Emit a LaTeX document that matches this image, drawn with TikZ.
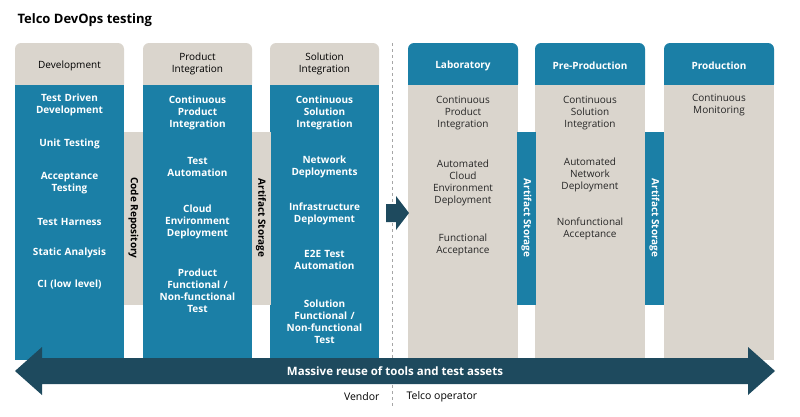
\documentclass[tikz,border=0pt]{standalone}
\usepackage{fontspec}
\setmainfont{Open Sans}
\usepackage{xcolor}
\usetikzlibrary{arrows.meta}
\definecolor{tblue}{HTML}{1B7FA6}
\definecolor{tgrey}{HTML}{DAD5CD}
\definecolor{tnavy}{HTML}{1E4A5E}
\tikzset{
 wtxt/.style={text=white,font=\bfseries\fontsize{10}{12}\selectfont,align=center,text width=100pt,inner sep=0pt},
 dtxt/.style={text=black!85,font=\fontsize{10}{12}\selectfont,align=center,text width=100pt,inner sep=0pt},
 htxt/.style={font=\fontsize{10}{12}\selectfont,align=center,inner sep=0pt},
}
\begin{document}
\begin{tikzpicture}[x=1pt,y=-1pt]
\useasboundingbox (0,0) rectangle (800,416);
\node[anchor=west,font=\bfseries\fontsize{13}{15}\selectfont] (title) at (14,20) {Telco DevOps testing};

% vendor side
\foreach \x/\n in {15/dev,143/prod,270/sol}{
  \fill[tgrey,rounded corners=6pt] (\x,43) rectangle (\x+109,90);
  \fill[tblue] (\x,85) rectangle (\x+109,360);
}
\foreach \x in {124,252}{
  \fill[tgrey] (\x,132) rectangle (\x+19,305);
}
% operator side
\foreach \x in {408,535,664}{
  \fill[tblue,rounded corners=6pt] (\x,43) rectangle (\x+110,90);
  \fill[tgrey] (\x,85) rectangle (\x+110,360);
}
\foreach \x in {517,645}{
  \fill[tblue] (\x,132) rectangle (\x+19,305);
}

\draw[gray!70,dashed,line width=1pt] (392,43) -- (392,408);
\fill[tnavy] (386,204) -- (396,204) -- (396,196) -- (409,213) -- (396,230) -- (396,222) -- (386,222) -- cycle;

% headers
\node[htxt] (hdev) at (69.5,66) {Development};
\node[htxt] (hprod) at (197.5,64) {Product\\Integration};
\node[htxt] (hsol) at (324.5,64) {Solution\\Integration};
\node[htxt,text=white,font=\bfseries\fontsize{10}{12}\selectfont] (hlab) at (463,66) {Laboratory};
\node[htxt,text=white,font=\bfseries\fontsize{10}{12}\selectfont] (hpre) at (590,66) {Pre-Production};
\node[htxt,text=white,font=\bfseries\fontsize{10}{12}\selectfont] (hprd) at (719,66) {Production};

% strips
\node[rotate=-90,font=\bfseries\fontsize{10}{12}\selectfont] (crepo) at (133.5,218) {Code Repository};
\node[rotate=-90,font=\bfseries\fontsize{10}{12}\selectfont] (as1) at (261,218) {Artifact Storage};
\node[rotate=-90,text=white,font=\bfseries\fontsize{10}{12}\selectfont] (as2) at (526.5,218) {Artifact Storage};
\node[rotate=-90,text=white,font=\bfseries\fontsize{10}{12}\selectfont] (as3) at (654.5,218) {Artifact Storage};

% development
\node[wtxt] (d1) at (69.5,105) {Test Driven\\Development};
\node[wtxt] (d2) at (69.5,144) {Unit Testing};
\node[wtxt] (d3) at (69.5,183) {Acceptance\\Testing};
\node[wtxt] (d4) at (69.5,222) {Test Harness};
\node[wtxt] (d5) at (69.5,253) {Static Analysis};
\node[wtxt] (d6) at (69.5,284) {CI (low level)};
% product integration
\node[wtxt] (p1) at (197.5,113) {Continuous\\Product\\Integration};
\node[wtxt] (p2) at (197.5,167) {Test\\Automation};
\node[wtxt] (p3) at (197.5,222) {Cloud\\Environment\\Deployment};
\node[wtxt] (p4) at (197.5,291) {Product\\Functional /\\Non-functional\\Test};
% solution integration
\node[wtxt] (s1) at (324.5,113) {Continuous\\Solution\\Integration};
\node[wtxt] (s2) at (324.5,167) {Network\\Deployments};
\node[wtxt] (s3) at (324.5,214) {Infrastructure\\Deployment};
\node[wtxt] (s4) at (324.5,260) {E2E Test\\Automation};
\node[wtxt] (s5) at (324.5,322) {Solution\\Functional /\\Non-functional\\Test};
% laboratory
\node[dtxt] (l1) at (463,113) {Continuous\\Product\\Integration};
\node[dtxt] (l2) at (463,183) {Automated\\Cloud\\Environment\\Deployment};
\node[dtxt] (l3) at (463,245) {Functional\\Acceptance};
% pre-production
\node[dtxt] (r1) at (590,113) {Continuous\\Solution\\Integration};
\node[dtxt] (r2) at (590,175) {Automated\\Network\\Deployment};
\node[dtxt] (r3) at (590,229) {Nonfunctional\\Acceptance};
% production
\node[dtxt] (o1) at (719,105) {Continuous\\Monitoring};

% reuse arrow
\fill[tnavy] (15,371) -- (42,347) -- (42,358) -- (748,358) -- (748,347) -- (775,371) -- (748,395) -- (748,384) -- (42,384) -- (42,395) -- cycle;
\node[text=white,font=\bfseries\fontsize{11.5}{13}\selectfont] (reuse) at (395,371) {Massive reuse of tools and test assets};
\node[font=\fontsize{10.5}{12}\selectfont,anchor=east] (vend) at (383,397) {Vendor};
\node[font=\fontsize{10.5}{12}\selectfont,anchor=west] (telco) at (403,397) {Telco operator};
\end{tikzpicture}
\end{document}
